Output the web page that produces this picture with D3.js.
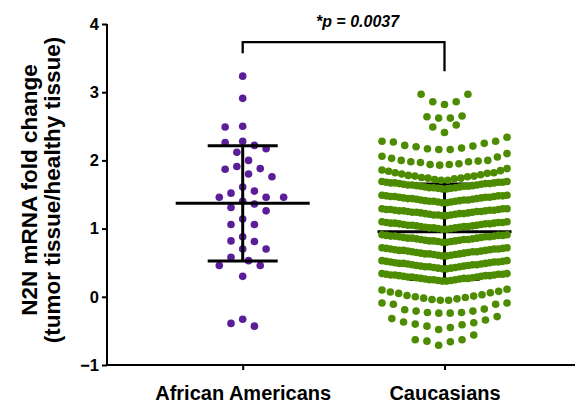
<!DOCTYPE html>
<html><head><meta charset="utf-8">
<script src="https://cdn.jsdelivr.net/npm/d3@7"></script>
<style>
html,body{margin:0;padding:0;background:#fff;}
svg{display:block;font-family:"Liberation Sans",Arial,sans-serif;}
</style></head>
<body><svg id="c" width="575" height="406"></svg>
<script>
const categories = ["African Americans", "Caucasians"];
const yTicks = [-1, 0, 1, 2, 3, 4];
const yTitle = ["N2N mRNA fold change", "(tumor tissue/healthy tissue)"];
const pLabel = "*p = 0.0037";
const means = [1.37, 0.955];
const sds = [0.845, 0.70];

const africanAmericans = [3.235, 2.91, 2.49, 2.50, 2.26, 2.28, 2.22, 2.17, 2.12, 2.00,
  1.88, 1.87, 1.91, 1.80, 1.76, 1.61, 1.55, 1.52, 1.46, 1.46, 1.46, 1.40, 1.36, 1.31,
  1.26, 1.14, 1.06, 1.06, 0.88, 0.82, 0.81, 0.70, 0.70, 0.58, 0.53, 0.46, 0.46, 0.30,
  -0.33, -0.43, -0.39];

const caucasianRows = [
  [2.82, 2.86, 2.86, 2.97, 2.97],
  [2.62, 2.62, 2.64, 2.65],
  [2.41, 2.49, 2.52],
  [2.16, 2.16, 2.17, 2.18, 2.20, 2.21, 2.22, 2.25, 2.27, 2.28, 2.28, 2.34],
  [1.93, 1.94, 1.94, 1.95, 1.97, 1.98, 1.98, 1.99, 2.00, 2.00, 2.03, 2.05, 2.06, 2.10],
  [1.71, 1.71, 1.72, 1.73, 1.74, 1.74, 1.75, 1.76, 1.77, 1.77, 1.78, 1.79, 1.80, 1.81, 1.82, 1.82, 1.84, 1.85, 1.86, 1.88],
  [1.58,1.58,1.59,1.59,1.60,1.60,1.60,1.61,1.61,1.62,1.62,1.62,1.63,1.63,1.64,1.64,1.64,1.65,1.65,1.66,1.66,1.66,1.67,1.67,1.67,1.68,1.68,1.68,1.69,1.69],
  [1.38,1.38,1.39,1.39,1.40,1.40,1.40,1.41,1.41,1.42,1.42,1.42,1.43,1.43,1.44,1.44,1.44,1.45,1.45,1.46,1.46,1.46,1.47,1.47,1.47,1.48,1.48,1.48,1.49,1.49],
  [1.19,1.19,1.20,1.20,1.20,1.21,1.21,1.22,1.22,1.22,1.23,1.23,1.24,1.24,1.24,1.25,1.25,1.25,1.26,1.26,1.26,1.27,1.27,1.27,1.28,1.28,1.28,1.29,1.29,1.29],
  [0.99,0.99,1.00,1.00,1.01,1.01,1.01,1.02,1.02,1.03,1.03,1.03,1.04,1.04,1.05,1.05,1.05,1.06,1.06,1.07,1.07,1.07,1.08,1.08,1.08,1.09,1.09,1.09,1.10,1.10],
  [0.80,0.80,0.81,0.81,0.82,0.82,0.82,0.83,0.83,0.84,0.84,0.84,0.85,0.85,0.86,0.86,0.86,0.87,0.87,0.88,0.88,0.88,0.89,0.89,0.89,0.90,0.90,0.90,0.91,0.91],
  [0.60,0.60,0.61,0.61,0.62,0.62,0.63,0.63,0.63,0.64,0.64,0.65,0.65,0.66,0.66,0.66,0.67,0.67,0.68,0.68,0.68,0.69,0.69,0.70,0.70,0.70,0.71,0.71,0.72,0.72],
  [0.41,0.41,0.42,0.42,0.43,0.43,0.44,0.44,0.44,0.45,0.45,0.46,0.46,0.47,0.47,0.47,0.48,0.48,0.49,0.49,0.49,0.50,0.50,0.51,0.51,0.51,0.52,0.52,0.53,0.53],
  [0.23,0.23,0.24,0.24,0.25,0.25,0.25,0.26,0.26,0.27,0.27,0.27,0.28,0.28,0.29,0.29,0.29,0.30,0.30,0.31,0.31,0.31,0.32,0.32,0.32,0.33,0.33,0.33,0.34,0.34],
  [-0.05, -0.05, -0.04, -0.03, -0.02, -0.01, 0.00, 0.01, 0.02, 0.03, 0.05, 0.06, 0.07, 0.08, 0.10, 0.11],
  [-0.24, -0.24, -0.23, -0.23, -0.21, -0.21, -0.19, -0.18, -0.11, -0.11, -0.09, -0.09],
  [-0.48, -0.45, -0.43, -0.41, -0.40, -0.38, -0.37, -0.34, -0.32, -0.29],
  [-0.71, -0.66, -0.65, -0.63, -0.63, -0.56]
];

const PURPLE = "#5a1f98", GREEN = "#4d8c00";
const svg = d3.select("#c");
const axisLeftX = 107, axisRightX = 575;
const y = d3.scaleLinear().domain([-1, 4]).range([365, 24]);
const x = d3.scalePoint().domain(categories).range([242.7, 444.5]);
const R = 3.8;

// y axis
const ya = svg.append("g").attr("transform", `translate(${axisLeftX},0)`)
  .call(d3.axisLeft(y).tickValues(yTicks).tickSize(5).tickPadding(3).tickFormat(d3.format("d")));
ya.select(".domain").remove();
ya.selectAll(".tick line").attr("stroke", "#000").attr("stroke-width", 2);
ya.selectAll(".tick text").attr("font-size", 16.5).attr("font-weight", "bold").attr("fill", "#000")
  .attr("font-family", "Liberation Sans, Arial, sans-serif");
svg.append("line").attr("x1", axisLeftX).attr("x2", axisLeftX).attr("y1", y(-1) + 1).attr("y2", y(4))
  .attr("stroke", "#000").attr("stroke-width", 2);

// x axis
const xa = svg.append("g").attr("transform", `translate(0,${y(-1)})`)
  .call(d3.axisBottom(x).tickSize(5).tickPadding(16));
xa.select(".domain").remove();
xa.selectAll(".tick line").attr("stroke", "#000").attr("stroke-width", 2);
xa.selectAll(".tick text").attr("font-size", 20).attr("font-weight", "bold").attr("fill", "#000")
  .attr("font-family", "Liberation Sans, Arial, sans-serif");
svg.append("line").attr("x1", axisLeftX - 1).attr("x2", axisRightX).attr("y1", y(-1)).attr("y2", y(-1))
  .attr("stroke", "#000").attr("stroke-width", 2);

// y title
const tg = svg.append("g").attr("transform", "translate(0,190) rotate(-90)");
tg.selectAll("text").data(yTitle).join("text")
  .attr("x", 0).attr("y", (d, i) => 37 + i * 22.5)
  .attr("text-anchor", "middle").attr("font-size", 22.5).attr("font-weight", "bold").attr("fill", "#000")
  .text(d => d);

// mean / SD lines
function meanSd(i, g) {
  const cx = x(categories[i]);
  g.append("line").attr("x1", cx - 67).attr("x2", cx + 67).attr("y1", y(means[i])).attr("y2", y(means[i]));
  g.append("line").attr("x1", cx - 35).attr("x2", cx + 35).attr("y1", y(means[i] + sds[i])).attr("y2", y(means[i] + sds[i]));
  g.append("line").attr("x1", cx - 35).attr("x2", cx + 35).attr("y1", y(means[i] - sds[i])).attr("y2", y(means[i] - sds[i]));
  g.append("line").attr("x1", cx).attr("x2", cx).attr("y1", y(means[i] + sds[i])).attr("y2", y(means[i] - sds[i]));
  g.selectAll("line").attr("stroke", "#000").attr("stroke-width", 3);
}

// Caucasians: rows, lowest value in the middle
meanSd(1, svg.append("g"));
const cx1 = x(categories[1]);
const greenPts = [];
caucasianRows.forEach(row => {
  const s = row.slice().sort((a, b) => a - b);
  const n = s.length;
  const sp = n > 1 ? Math.min(11.7, 125 / (n - 1)) : 0;
  s.forEach((v, i) => {
    let off;
    if (n % 2 === 1) { off = i === 0 ? 0 : Math.ceil(i / 2) * (i % 2 ? -1 : 1); }
    else { off = (Math.floor(i / 2) + 0.5) * (i % 2 ? 1 : -1); }
    greenPts.push({ v, x: cx1 + off * sp });
  });
});
svg.append("g").selectAll("circle").data(greenPts).join("circle")
  .attr("cx", d => d.x).attr("cy", d => y(d.v)).attr("r", R).attr("fill", GREEN);

// African Americans: greedy beeswarm
const cx0 = x(categories[0]);
const slot = 5.85, minD = 12;
const placed = [];
africanAmericans.slice().sort((a, b) => b - a).forEach((v, idx) => {
  const py = y(v);
  for (let k = 0; k < 30; k++) {
    const cands = k === 0 ? [0] : (placed.length % 2 ? [-k, k] : [k, -k]);
    let done = false;
    for (const c of cands) {
      const px = cx0 + c * slot;
      if (placed.every(q => (q.x - px) ** 2 + (q.y - py) ** 2 >= minD * minD)) {
        placed.push({ x: px, y: py, v }); done = true; break;
      }
    }
    if (done) break;
  }
});
svg.append("g").selectAll("circle").data(placed).join("circle")
  .attr("cx", d => d.x).attr("cy", d => d.y).attr("r", R).attr("fill", PURPLE);
meanSd(0, svg.append("g"));

// significance bracket
const bTop = y(3.735);
const l0 = y(d3.max(africanAmericans)) - 23;
const l1 = y(d3.max(caucasianRows.flat())) - 23;
svg.append("path")
  .attr("d", `M${cx0},${l0}V${bTop}H${cx1}V${l1}`)
  .attr("fill", "none").attr("stroke", "#000").attr("stroke-width", 2.3);
svg.append("text").attr("x", 357.5).attr("y", 27).attr("text-anchor", "middle")
  .attr("font-size", 16).attr("font-weight", "bold").attr("font-style", "italic").text(pLabel);
</script></body></html>
